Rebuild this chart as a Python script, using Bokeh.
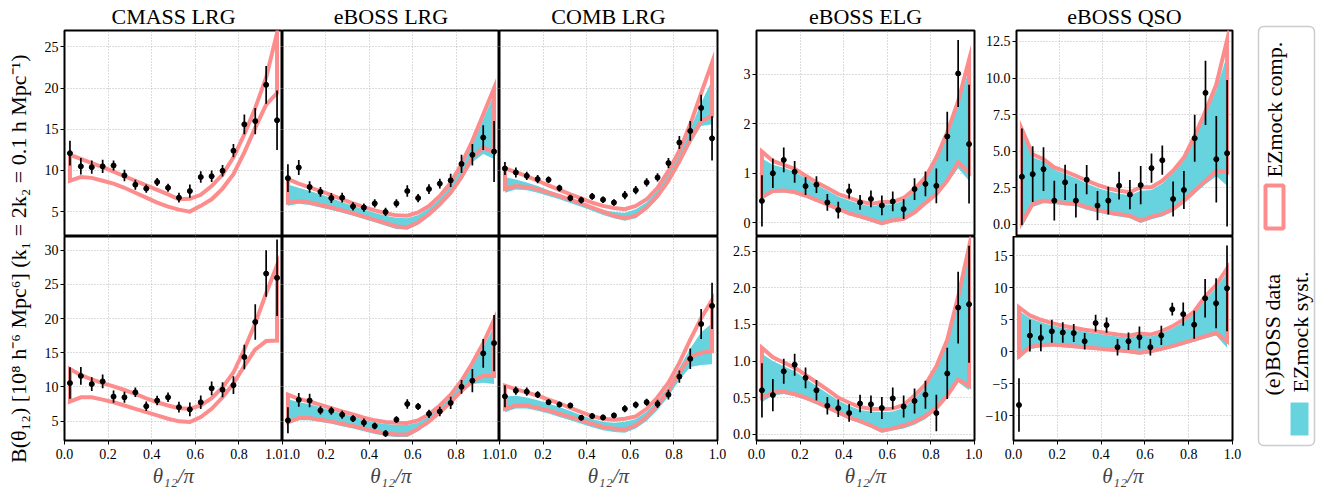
import numpy as np
from math import pi
from bokeh.plotting import figure
from bokeh.models import Range1d, FixedTicker, NumeralTickFormatter, Label, BoxAnnotation, Title
from bokeh.layouts import row, column
from bokeh.embed import file_html
from bokeh.resources import INLINE

# ---------------- data ----------------
theta = [0.025, 0.075, 0.125, 0.175, 0.225, 0.275, 0.325, 0.375, 0.425, 0.475,
         0.525, 0.575, 0.625, 0.675, 0.725, 0.775, 0.825, 0.875, 0.925, 0.975]

titles = ["CMASS LRG", "eBOSS LRG", "COMB LRG", "eBOSS ELG", "eBOSS QSO"]
x_ticks = [0.0, 0.2, 0.4, 0.6, 0.8, 1.0]

# CMASS LRG
cmass_ngc_y = [12.1, 10.5, 10.4, 10.5, 10.6, 9.4, 8.27, 7.8, 8.6, 7.9, 6.7, 7.5, 9.2, 9.3, 9.96, 12.4, 15.6, 16.0, 20.4, 16.1]
cmass_ngc_e = [1.5, 1.0, 0.8, 0.8, 0.6, 0.7, 0.6, 0.5, 0.5, 0.5, 0.6, 0.8, 0.7, 0.7, 0.7, 0.8, 1.2, 1.6, 2.3, 3.6]
cmass_ngc_up = [11.9, 11.4, 10.9, 10.4, 9.85, 9.3, 8.75, 8.2, 7.65, 7.1, 6.5, 6.55, 7.05, 8.1, 9.5, 11.6, 14.4, 17.6, 21.3, 26.7]
cmass_ngc_lo = [8.75, 9.2, 9.1, 8.75, 8.4, 7.9, 7.3, 6.7, 6.1, 5.6, 5.24, 5.0, 5.7, 6.5, 7.8, 9.55, 12.2, 15.2, 18.0, 19.4]

cmass_sgc_y = [10.55, 11.6, 10.4, 10.8, 8.57, 8.47, 9.2, 7.17, 8.0, 8.47, 7.03, 6.7, 7.75, 9.78, 9.58, 10.25, 14.36, 19.5, 26.57, 25.95]
cmass_sgc_e = [2.3, 1.3, 1.0, 1.0, 0.9, 0.8, 0.7, 0.7, 0.7, 0.7, 0.8, 1.0, 1.0, 1.0, 1.1, 1.3, 1.8, 2.6, 3.4, 5.6]
cmass_sgc_up = [12.6, 11.7, 11.1, 10.55, 10.07, 9.54, 8.96, 8.33, 7.75, 7.27, 6.88, 6.79, 7.27, 8.33, 9.92, 12.1, 15.5, 19.3, 23.7, 27.8]
cmass_sgc_lo = [7.85, 8.47, 8.47, 8.13, 7.75, 7.27, 6.79, 6.3, 5.82, 5.34, 4.95, 4.86, 5.58, 6.79, 8.47, 10.5, 13.06, 15.47, 16.7, 16.78]

# eBOSS LRG
elrg_ngc_y = [9.07, 10.36, 8.0, 7.4, 6.65, 6.7, 5.65, 5.5, 6.0, 4.96, 6.0, 7.5, 6.65, 7.74, 8.4, 8.8, 10.8, 11.9, 14.0, 12.3]
elrg_ngc_e = [1.7, 0.9, 0.7, 0.6, 0.6, 0.6, 0.5, 0.5, 0.5, 0.5, 0.5, 0.7, 0.5, 0.6, 0.6, 0.8, 1.1, 1.3, 1.5, 3.7]
elrg_ngc_up = [8.95, 8.4, 7.95, 7.5, 7.0, 6.5, 6.0, 5.55, 5.15, 4.8, 4.55, 4.5, 4.9, 5.7, 6.9, 8.5, 10.8, 13.6, 16.8, 20.0]
elrg_ngc_lo = [6.1, 6.3, 6.1, 5.8, 5.5, 5.15, 4.8, 4.4, 4.0, 3.6, 3.2, 3.1, 3.7, 4.7, 5.9, 7.3, 9.2, 11.6, 12.8, 12.2]
elrg_ngc_sup = [8.3, 7.9, 7.5, 7.1, 6.65, 6.15, 5.7, 5.25, 4.85, 4.5, 4.25, 4.2, 4.6, 5.4, 6.6, 8.2, 10.4, 13.1, 16.2, 19.3]
elrg_ngc_slo = [5.7, 5.95, 5.8, 5.5, 5.2, 4.85, 4.5, 4.1, 3.7, 3.3, 2.9, 2.8, 3.4, 4.4, 5.6, 7.0, 8.8, 11.0, 12.0, 11.4]

elrg_sgc_y = [5.1, 8.1, 8.0, 6.55, 6.5, 5.92, 5.34, 4.76, 4.28, 3.17, 5.2, 7.5, 7.12, 6.06, 6.4, 7.65, 10.0, 10.9, 14.9, 16.4]
elrg_sgc_e = [1.9, 1.0, 1.0, 0.6, 0.6, 0.6, 0.5, 0.6, 0.5, 0.5, 0.5, 0.7, 0.5, 0.6, 0.7, 0.9, 1.0, 1.7, 2.1, 4.1]
elrg_sgc_up = [8.86, 8.23, 7.85, 7.37, 6.88, 6.4, 5.97, 5.48, 5.1, 4.86, 4.76, 4.71, 5.1, 5.97, 7.27, 8.86, 10.9, 13.5, 16.4, 19.8]
elrg_sgc_lo = [4.86, 5.43, 5.43, 5.19, 4.95, 4.6, 4.28, 3.89, 3.5, 3.17, 3.02, 3.02, 3.89, 4.95, 6.3, 7.75, 9.44, 10.9, 11.6, 11.6]
elrg_sgc_sup = [8.2, 7.8, 7.45, 7.0, 6.55, 6.1, 5.65, 5.2, 4.8, 4.55, 4.45, 4.4, 4.8, 5.65, 6.95, 8.5, 10.5, 13.0, 15.8, 18.9]
elrg_sgc_slo = [4.5, 5.1, 5.1, 4.85, 4.6, 4.25, 3.9, 3.5, 3.1, 2.8, 2.65, 2.65, 3.5, 4.6, 5.95, 7.4, 9.1, 10.4, 10.6, 10.4]

# COMB LRG
comb_ngc_y = [10.24, 9.76, 9.35, 8.95, 8.87, 7.86, 6.65, 6.4, 6.85, 6.45, 6.1, 7.0, 7.6, 8.55, 9.15, 10.9, 13.4, 14.8, 17.6, 13.9]
comb_ngc_e = [0.8, 0.6, 0.5, 0.5, 0.4, 0.4, 0.4, 0.4, 0.4, 0.4, 0.4, 0.5, 0.5, 0.5, 0.5, 0.6, 0.8, 1.2, 1.6, 2.7]
comb_ngc_up = [10.25, 9.8, 9.3, 8.75, 8.2, 7.65, 7.1, 6.6, 6.1, 5.7, 5.45, 5.3, 5.7, 6.5, 7.9, 9.95, 12.4, 15.6, 19.4, 23.1]
comb_ngc_lo = [7.75, 8.1, 8.0, 7.7, 7.3, 6.9, 6.45, 6.0, 5.5, 5.0, 4.5, 4.2, 4.5, 5.5, 6.9, 8.75, 11.1, 13.7, 16.0, 16.6]
comb_ngc_sup = [9.2, 8.9, 8.55, 8.1, 7.6, 7.1, 6.6, 6.1, 5.6, 5.2, 4.95, 4.85, 5.3, 6.15, 7.6, 9.6, 12.0, 15.0, 18.2, 21.0]
comb_ngc_slo = [7.3, 7.7, 7.6, 7.3, 6.9, 6.5, 6.05, 5.6, 5.1, 4.6, 4.2, 3.9, 4.2, 5.2, 6.6, 8.4, 10.7, 13.2, 15.4, 15.6]

comb_sgc_y = [8.62, 9.44, 9.3, 8.86, 7.75, 7.41, 7.27, 5.48, 5.72, 5.53, 5.82, 6.79, 7.37, 7.75, 7.5, 8.86, 11.5, 14.1, 19.2, 21.85]
comb_sgc_e = [1.6, 0.6, 0.6, 0.5, 0.4, 0.4, 0.4, 0.4, 0.4, 0.4, 0.4, 0.5, 0.5, 0.5, 0.6, 0.7, 0.9, 1.5, 2.2, 3.4]
comb_sgc_up = [10.17, 9.68, 9.2, 8.72, 8.13, 7.6, 6.93, 6.3, 5.72, 5.34, 5.19, 5.34, 5.68, 6.79, 8.47, 10.6, 13.5, 16.9, 20.05, 22.7]
comb_sgc_lo = [6.79, 7.27, 7.27, 6.93, 6.55, 6.06, 5.58, 5.1, 4.6, 4.13, 3.89, 3.75, 4.37, 5.58, 7.27, 9.44, 12.1, 14.4, 15.0, 15.2]
comb_sgc_sup = [8.6, 8.7, 8.45, 8.05, 7.55, 7.05, 6.45, 5.85, 5.3, 4.9, 4.75, 4.9, 5.3, 6.4, 8.0, 10.1, 12.8, 15.6, 18.0, 19.3]
comb_sgc_slo = [6.3, 6.85, 6.85, 6.5, 6.1, 5.6, 5.1, 4.6, 4.1, 3.65, 3.4, 3.3, 3.9, 5.0, 6.6, 8.6, 11.0, 12.9, 13.2, 13.3]

# eBOSS ELG
elg_ngc_y = [0.44, 1.0, 1.27, 1.03, 0.74, 0.77, 0.41, 0.255, 0.64, 0.41, 0.48, 0.35, 0.43, 0.275, 0.68, 0.785, 0.745, 1.745, 3.02, 1.59]
elg_ngc_e = [0.52, 0.3, 0.25, 0.22, 0.18, 0.17, 0.17, 0.17, 0.15, 0.15, 0.17, 0.2, 0.2, 0.2, 0.22, 0.25, 0.35, 0.5, 0.68, 1.2]
elg_ngc_up = [1.44, 1.25, 1.17, 1.09, 0.95, 0.82, 0.70, 0.58, 0.5, 0.43, 0.38, 0.42, 0.42, 0.5, 0.68, 0.92, 1.32, 1.83, 2.46, 3.3]
elg_ngc_lo = [0.52, 0.64, 0.65, 0.62, 0.55, 0.46, 0.37, 0.28, 0.19, 0.13, 0.06, -0.01, 0.05, 0.08, 0.21, 0.4, 0.58, 0.85, 1.22, 1.02]
elg_ngc_sup = [1.3, 1.17, 1.11, 1.03, 0.9, 0.77, 0.65, 0.53, 0.45, 0.38, 0.33, 0.37, 0.37, 0.45, 0.63, 0.87, 1.27, 1.78, 2.4, 3.1]
elg_ngc_slo = [0.47, 0.6, 0.61, 0.58, 0.51, 0.42, 0.33, 0.24, 0.15, 0.09, 0.02, -0.05, 0.01, 0.04, 0.17, 0.36, 0.54, 0.8, 1.1, 0.85]

elg_sgc_y = [0.60, 0.536, 0.86, 0.95, 0.77, 0.60, 0.39, 0.356, 0.29, 0.42, 0.41, 0.36, 0.49, 0.38, 0.455, 0.54, 0.29, 0.83, 1.73, 1.775]
elg_sgc_e = [0.37, 0.22, 0.17, 0.15, 0.14, 0.14, 0.12, 0.12, 0.12, 0.12, 0.12, 0.15, 0.15, 0.15, 0.17, 0.19, 0.25, 0.35, 0.49, 0.8]
elg_sgc_up = [1.18, 1.05, 0.98, 0.91, 0.81, 0.71, 0.61, 0.5, 0.43, 0.37, 0.35, 0.34, 0.35, 0.4, 0.53, 0.68, 0.93, 1.29, 1.88, 2.56]
elg_sgc_lo = [0.5, 0.57, 0.58, 0.55, 0.5, 0.44, 0.37, 0.3, 0.23, 0.18, 0.12, 0.05, 0.08, 0.12, 0.17, 0.25, 0.36, 0.53, 0.75, 0.66]
elg_sgc_sup = [1.1, 1.0, 0.93, 0.86, 0.76, 0.66, 0.56, 0.46, 0.39, 0.33, 0.31, 0.3, 0.31, 0.36, 0.49, 0.64, 0.89, 1.25, 1.83, 2.45]
elg_sgc_slo = [0.44, 0.53, 0.55, 0.52, 0.47, 0.41, 0.34, 0.27, 0.2, 0.15, 0.09, 0.02, 0.05, 0.08, 0.13, 0.21, 0.33, 0.5, 0.71, 0.6]

# eBOSS QSO
qso_ngc_y = [3.26, 3.44, 3.78, 1.63, 2.88, 1.63, 3.06, 1.29, 1.63, 2.65, 2.04, 2.69, 3.85, 4.39, 1.74, 2.36, 5.89, 8.99, 4.46, 4.87]
qso_ngc_e = [3.3, 1.9, 1.5, 1.35, 1.2, 1.15, 1.0, 1.0, 0.95, 0.95, 1.0, 1.3, 1.0, 1.0, 1.2, 1.3, 1.6, 2.2, 2.95, 5.0]
qso_ngc_up = [6.5, 4.8, 4.46, 3.9, 3.62, 3.33, 2.99, 2.7, 2.47, 2.31, 2.2, 2.54, 2.54, 2.99, 3.67, 4.57, 6.05, 7.74, 9.56, 12.6]
qso_ngc_lo = [0.16, 1.4, 1.63, 1.56, 1.47, 1.45, 1.18, 1.0, 0.84, 0.72, 0.61, 0.27, 0.54, 0.72, 1.06, 1.63, 2.31, 2.99, 3.67, 3.55]
qso_ngc_sup = [6.2, 4.6, 4.3, 3.75, 3.45, 3.15, 2.8, 2.5, 2.27, 2.1, 2.0, 2.3, 2.35, 2.8, 3.5, 4.4, 5.85, 7.5, 9.2, 11.6]
qso_ngc_slo = [-0.2, 1.2, 1.45, 1.4, 1.3, 1.25, 1.0, 0.82, 0.67, 0.55, 0.43, 0.1, 0.35, 0.55, 0.88, 1.45, 2.1, 2.75, 3.3, 2.65]

qso_sgc_y = [-8.35, 2.5, 2.14, 3.17, 3.0, 2.9, 1.62, 4.46, 4.15, 0.69, 1.62, 2.24, 0.69, 2.55, 6.63, 5.86, 4.2, 8.34, 7.56, 9.9]
qso_sgc_e = [4.2, 2.5, 2.1, 1.8, 1.6, 1.4, 1.3, 1.3, 1.2, 1.3, 1.35, 1.7, 1.3, 1.5, 1.0, 1.8, 2.2, 3.0, 3.9, 6.7]
qso_sgc_up = [6.94, 5.65, 4.98, 4.46, 4.05, 3.74, 3.43, 3.17, 2.91, 2.66, 2.5, 2.81, 2.66, 3.17, 3.95, 4.98, 6.27, 8.6, 10.4, 12.99]
qso_sgc_lo = [-0.7, 0.74, 1.0, 1.1, 1.0, 0.85, 0.69, 0.54, 0.38, 0.23, 0.07, -0.19, 0.07, 0.43, 0.85, 1.36, 1.88, 2.4, 2.91, 1.62]
qso_sgc_sup = [6.4, 5.2, 4.6, 4.1, 3.7, 3.4, 3.1, 2.85, 2.6, 2.35, 2.2, 2.5, 2.35, 2.85, 3.6, 4.6, 5.9, 8.1, 9.9, 12.3]
qso_sgc_slo = [-1.2, 0.4, 0.7, 0.8, 0.7, 0.55, 0.4, 0.25, 0.1, -0.05, -0.2, -0.5, -0.2, 0.15, 0.55, 1.05, 1.55, 2.05, 2.5, 0.6]

# y axes per row group
lrg_ngc_ylim, lrg_ngc_ticks = (1.98, 27.0), [5, 10, 15, 20, 25]
lrg_sgc_ylim, lrg_sgc_ticks = (2.15, 32.0), [5, 10, 15, 20, 25, 30]
elg_ngc_ylim, elg_ngc_ticks = (-0.28, 3.89), [0, 1, 2, 3]
elg_sgc_ylim, elg_sgc_ticks = (-0.085, 2.70), [0.0, 0.5, 1.0, 1.5, 2.0, 2.5]
qso_ngc_ylim, qso_ngc_ticks = (-0.82, 13.25), [0.0, 2.5, 5.0, 7.5, 10.0, 12.5]
qso_sgc_ylim, qso_sgc_ticks = (-13.9, 18.0), [-10, -5, 0, 5, 10, 15]

# ---------------- style ----------------
FONT = "Liberation Serif"
PINK = "#fd8d8d"
CYAN = "#66d3de"
COLS = [(26, 218, 0), (0, 217, 0), (0, 218, 9), (30, 218, 8), (31, 219, 24)]
ROWS = [(29, 207, 0), (0, 206, 48)]
TOTAL_H = 490


def make_panel(ci, ri, y, e, up, lo, sup, slo, ylim, yticks, yfmt, show_y,
               xoverride=None, yoverride=None):
    cl, cw, cr = COLS[ci]
    rt, rh, rb = ROWS[ri]
    kw = {}
    if ri == 0:
        kw["title"] = Title(text=titles[ci], align="center", text_font=FONT,
                            text_font_size="22px", text_font_style="normal",
                            text_color="black", standoff=3, offset=0)
    p = figure(width=cl + cw + cr, height=rt + rh + rb,
               x_range=Range1d(0, 1), y_range=Range1d(*ylim),
               x_axis_location="below" if ri == 1 else None,
               y_axis_location="left" if show_y else None,
               output_backend="svg", toolbar_location=None, tools="",
               min_border_left=cl, min_border_right=cr,
               min_border_top=rt, min_border_bottom=rb, **kw)
    p.background_fill_color = "white"
    p.border_fill_color = "white"
    p.outline_line_color = "black"
    p.outline_line_width = 2
    p.xgrid.ticker = FixedTicker(ticks=x_ticks)
    p.ygrid.ticker = FixedTicker(ticks=yticks)
    p.grid.grid_line_color = "#b0b0b0"
    p.grid.grid_line_dash = "1 2"
    p.grid.grid_line_width = 0.9

    for ax in p.axis:
        ax.axis_line_color = None
        ax.major_tick_line_color = "black"
        ax.major_tick_line_width = 1
        ax.major_tick_out = 4
        ax.major_tick_in = 0
        ax.minor_tick_line_color = None
        ax.major_label_text_font = FONT
        ax.major_label_text_font_size = "14px"
        ax.major_label_text_color = "black"
        ax.major_label_standoff = 2
    if show_y:
        p.yaxis.ticker = FixedTicker(ticks=yticks)
        p.yaxis.formatter = NumeralTickFormatter(format=yfmt)
        if yoverride:
            p.yaxis.major_label_overrides = yoverride
    if ri == 1:
        p.xaxis.ticker = FixedTicker(ticks=x_ticks)
        p.xaxis.formatter = NumeralTickFormatter(format="0.0")
        p.xaxis.major_label_standoff = 4
        if xoverride:
            p.xaxis.major_label_overrides = xoverride
        p.xaxis.axis_label = "θ₁₂/π"
        p.xaxis.axis_label_text_font = FONT
        p.xaxis.axis_label_text_font_size = "21px"
        p.xaxis.axis_label_text_font_style = "italic"
        p.xaxis.axis_label_standoff = 2

    if sup is not None:
        p.varea(x=theta, y1=slo, y2=sup, fill_color=CYAN, fill_alpha=1.0)
    p.patch(theta + theta[::-1], up + lo[::-1], fill_color=None,
            line_color=PINK, line_width=4, line_join="miter")
    yy = np.array(y)
    ee = np.array(e)
    p.segment(theta, yy - ee, theta, yy + ee, line_color="black", line_width=1.7)
    p.scatter(theta, y, size=5, color="black")
    return p


t0 = make_panel(0, 0, cmass_ngc_y, cmass_ngc_e, cmass_ngc_up, cmass_ngc_lo, None, None,
                lrg_ngc_ylim, lrg_ngc_ticks, "0", True)
t1 = make_panel(1, 0, elrg_ngc_y, elrg_ngc_e, elrg_ngc_up, elrg_ngc_lo, elrg_ngc_sup, elrg_ngc_slo,
                lrg_ngc_ylim, lrg_ngc_ticks, "0", False)
t2 = make_panel(2, 0, comb_ngc_y, comb_ngc_e, comb_ngc_up, comb_ngc_lo, comb_ngc_sup, comb_ngc_slo,
                lrg_ngc_ylim, lrg_ngc_ticks, "0", False)
t3 = make_panel(3, 0, elg_ngc_y, elg_ngc_e, elg_ngc_up, elg_ngc_lo, elg_ngc_sup, elg_ngc_slo,
                elg_ngc_ylim, elg_ngc_ticks, "0", True)
t4 = make_panel(4, 0, qso_ngc_y, qso_ngc_e, qso_ngc_up, qso_ngc_lo, qso_ngc_sup, qso_ngc_slo,
                qso_ngc_ylim, qso_ngc_ticks, "0.0", True)

b0 = make_panel(0, 1, cmass_sgc_y, cmass_sgc_e, cmass_sgc_up, cmass_sgc_lo, None, None,
                lrg_sgc_ylim, lrg_sgc_ticks, "0", True)
b1 = make_panel(1, 1, elrg_sgc_y, elrg_sgc_e, elrg_sgc_up, elrg_sgc_lo, elrg_sgc_sup, elrg_sgc_slo,
                lrg_sgc_ylim, lrg_sgc_ticks, "0", False, xoverride={0: "1.0"})
b2 = make_panel(2, 1, comb_sgc_y, comb_sgc_e, comb_sgc_up, comb_sgc_lo, comb_sgc_sup, comb_sgc_slo,
                lrg_sgc_ylim, lrg_sgc_ticks, "0", False, xoverride={0: "1.0"})
b3 = make_panel(3, 1, elg_sgc_y, elg_sgc_e, elg_sgc_up, elg_sgc_lo, elg_sgc_sup, elg_sgc_slo,
                elg_sgc_ylim, elg_sgc_ticks, "0.0", True)
b4 = make_panel(4, 1, qso_sgc_y, qso_sgc_e, qso_sgc_up, qso_sgc_lo, qso_sgc_sup, qso_sgc_slo,
                qso_sgc_ylim, qso_sgc_ticks, "0", True, yoverride={-10: "−10", -5: "−5"})

# NGC / SGC side labels
t4.add_layout(Label(x=1.0, y=0.5 * (qso_ngc_ylim[0] + qso_ngc_ylim[1]), text="NGC",
                    text_font=FONT, text_font_size="22px", text_align="center",
                    text_baseline="middle", angle=pi / 2, x_offset=11, text_color="black"))
b4.add_layout(Label(x=1.0, y=qso_sgc_ylim[1] - 0.35 * (qso_sgc_ylim[1] - qso_sgc_ylim[0]),
                    text="SGC", text_font=FONT, text_font_size="22px", text_align="center",
                    text_baseline="middle", angle=pi / 2, x_offset=11, text_color="black"))


def blank(w, h):
    p = figure(width=w, height=h, x_range=Range1d(0, w), y_range=Range1d(0, h),
               x_axis_location=None, y_axis_location=None,
               output_backend="svg", toolbar_location=None, tools="",
               min_border_left=0, min_border_right=0, min_border_top=0, min_border_bottom=0)
    p.grid.visible = False
    p.outline_line_color = None
    p.background_fill_color = "white"
    p.border_fill_color = "white"
    return p


# left strip with the shared y label
strip = blank(38, TOTAL_H)
strip.add_layout(Label(x=18, y=TOTAL_H - 250,
                       text="B(θ₁₂) [10⁸ h⁻⁶ Mpc⁶]    (k₁ = 2k₂ = 0.1 h Mpc⁻¹)",
                       text_font=FONT, text_font_size="22px", text_align="center",
                       text_baseline="middle", angle=pi / 2, text_color="black"))

# legend panel
leg = blank(62, TOTAL_H)
leg.add_layout(BoxAnnotation(left=2, right=58, bottom=45, top=464, fill_color="white",
                             fill_alpha=1, line_color="#cccccc", line_alpha=1,
                             line_width=1.5, border_radius=5))
leg.add_layout(BoxAnnotation(left=9, right=27, bottom=262, top=305, fill_color=None,
                             fill_alpha=0, line_color=PINK, line_alpha=1, line_width=4))
leg.add_layout(BoxAnnotation(left=34, right=52, bottom=55, top=88, fill_color=CYAN,
                             fill_alpha=1, line_color=None))
leg.segment([18, 10], [68, 77], [18, 26], [86, 77], line_color="black", line_width=1.7)
leg.scatter([18], [77], size=5, color="black")
for tx, xx, yy in [("EZmock comp.", 18, 313), ("(e)BOSS data", 16, 95), ("EZmock syst.", 44, 98)]:
    leg.add_layout(Label(x=xx, y=yy, text=tx, text_font=FONT, text_font_size="22px",
                         text_align="left", text_baseline="middle", angle=pi / 2,
                         text_color="black"))

grid = column(row(t0, t1, t2, t3, t4), row(b0, b1, b2, b3, b4))
layout = row(strip, grid, leg)

open("out.html", "w").write(file_html(layout, INLINE))
